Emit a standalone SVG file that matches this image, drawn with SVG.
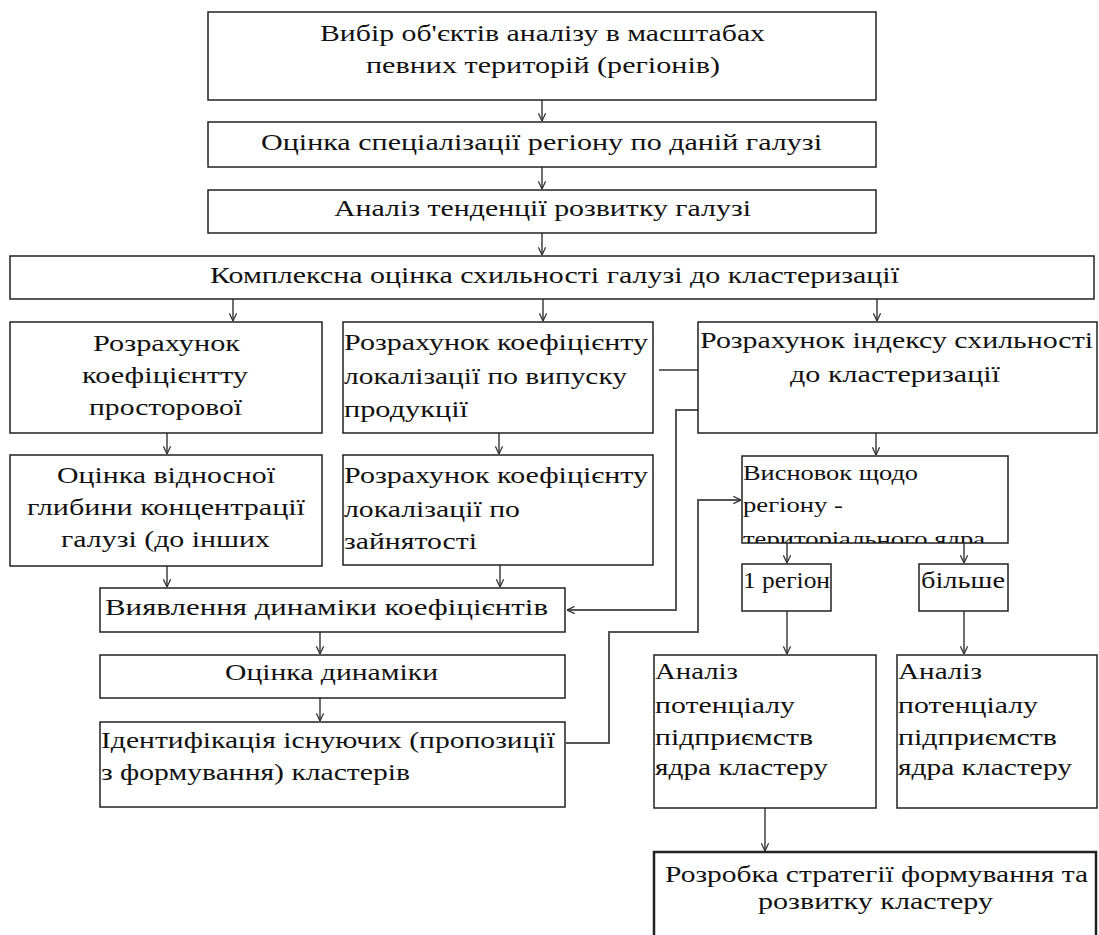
<svg xmlns="http://www.w3.org/2000/svg" width="1099" height="935" viewBox="0 0 1099 935">
<style>
.box{fill:#fff;stroke:#222;stroke-width:1.5}
.thick{stroke-width:2.5}
.t{font-family:"Liberation Serif","Times New Roman",serif;font-size:23px;fill:#111}
.s{font-size:21px}
.c{fill:none;stroke:#333;stroke-width:1.4}
.g{fill:none;stroke:#555;stroke-width:2}
</style>
<defs>
<marker id="ah" viewBox="0 0 10 10" refX="9.5" refY="5" markerWidth="9" markerHeight="9" markerUnits="userSpaceOnUse" orient="auto">
<path d="M1,1 L9.5,5 L1,9" fill="none" stroke="#333" stroke-width="1.4"/>
</marker>
<clipPath id="clipF"><rect x="742" y="456" width="266" height="87"/></clipPath>
</defs>
<rect width="1099" height="935" fill="#fff"/>

<g id="connectors">
<line class="c" x1="542" y1="100" x2="542" y2="121" marker-end="url(#ah)"/>
<line class="c" x1="542" y1="167" x2="542" y2="189" marker-end="url(#ah)"/>
<line class="c" x1="542" y1="233" x2="542" y2="255" marker-end="url(#ah)"/>
<line class="c" x1="233" y1="299" x2="233" y2="321" marker-end="url(#ah)"/>
<line class="c" x1="543" y1="299" x2="543" y2="321" marker-end="url(#ah)"/>
<line class="c" x1="877" y1="299" x2="877" y2="321" marker-end="url(#ah)"/>
<line class="c" x1="167" y1="433" x2="167" y2="454" marker-end="url(#ah)"/>
<line class="c" x1="499" y1="433" x2="499" y2="454" marker-end="url(#ah)"/>
<line class="c" x1="876" y1="433" x2="876" y2="455" marker-end="url(#ah)"/>
<line class="c" x1="167" y1="566" x2="167" y2="587" marker-end="url(#ah)"/>
<line class="c" x1="500" y1="565" x2="500" y2="587" marker-end="url(#ah)"/>
<line class="c" x1="320" y1="632" x2="320" y2="654" marker-end="url(#ah)"/>
<line class="c" x1="320" y1="698" x2="320" y2="721" marker-end="url(#ah)"/>
<line class="c" x1="787" y1="543" x2="787" y2="563" marker-end="url(#ah)"/>
<line class="c" x1="964" y1="543" x2="964" y2="563" marker-end="url(#ah)"/>
<line class="c" x1="787" y1="611" x2="787" y2="654" marker-end="url(#ah)"/>
<line class="c" x1="964" y1="611" x2="964" y2="654" marker-end="url(#ah)"/>
<line class="c" x1="765" y1="808" x2="765" y2="851" marker-end="url(#ah)"/>
<line class="c" x1="659" y1="370" x2="708" y2="370"/>
<polyline class="g" points="698,410 676,410 676,610 567,610" marker-end="url(#ah)"/>
<polyline class="g" points="566,743 609,743 609,632 698,632 698,500 741,500" marker-end="url(#ah)"/>
</g>

<g id="n1"><rect class="box" x="208" y="12" width="668" height="88"/>
<text class="t" x="320" y="41" textLength="445" lengthAdjust="spacingAndGlyphs">Вибір об'єктів аналізу в масштабах</text>
<text class="t" x="366" y="73" textLength="354" lengthAdjust="spacingAndGlyphs">певних територій (регіонів)</text></g>

<g id="n2"><rect class="box" x="208" y="122" width="668" height="45"/>
<text class="t" x="261" y="150" textLength="561" lengthAdjust="spacingAndGlyphs">Оцінка спеціалізації регіону по даній галузі</text></g>

<g id="n3"><rect class="box" x="208" y="190" width="668" height="43"/>
<text class="t" x="334" y="216" textLength="417" lengthAdjust="spacingAndGlyphs">Аналіз тенденції розвитку галузі</text></g>

<g id="n4"><rect class="box" x="10" y="256" width="1084" height="43"/>
<text class="t" x="210" y="283" textLength="689" lengthAdjust="spacingAndGlyphs">Комплексна оцінка схильності галузі до кластеризації</text></g>

<g id="nA"><rect class="box" x="10" y="322" width="312" height="111"/>
<text class="t" x="93" y="351" textLength="147" lengthAdjust="spacingAndGlyphs">Розрахунок</text>
<text class="t" x="82" y="383" textLength="166" lengthAdjust="spacingAndGlyphs">коефіцієнтту</text>
<text class="t" x="89" y="415" textLength="153" lengthAdjust="spacingAndGlyphs">просторової</text></g>

<g id="nB"><rect class="box" x="343" y="322" width="310" height="111"/>
<text class="t" x="344" y="350" textLength="304" lengthAdjust="spacingAndGlyphs">Розрахунок коефіцієнту</text>
<text class="t" x="344" y="384" textLength="283" lengthAdjust="spacingAndGlyphs">локалізації по випуску</text>
<text class="t" x="344" y="417" textLength="124" lengthAdjust="spacingAndGlyphs">продукції</text></g>

<g id="nC"><rect class="box" x="698" y="322" width="399" height="111"/>
<text class="t" x="700" y="348" textLength="393" lengthAdjust="spacingAndGlyphs">Розрахунок індексу схильності</text>
<text class="t" x="790" y="382" textLength="210" lengthAdjust="spacingAndGlyphs">до кластеризації</text></g>

<g id="nD"><rect class="box" x="10" y="455" width="312" height="111"/>
<text class="t" x="57" y="483" textLength="218" lengthAdjust="spacingAndGlyphs">Оцінка відносної</text>
<text class="t" x="27" y="515" textLength="278" lengthAdjust="spacingAndGlyphs">глибини концентрації</text>
<text class="t" x="61" y="547" textLength="209" lengthAdjust="spacingAndGlyphs">галузі (до інших</text></g>

<g id="nE"><rect class="box" x="343" y="455" width="310" height="110"/>
<text class="t" x="344" y="483" textLength="304" lengthAdjust="spacingAndGlyphs">Розрахунок коефіцієнту</text>
<text class="t" x="344" y="517" textLength="176" lengthAdjust="spacingAndGlyphs">локалізації по</text>
<text class="t" x="344" y="549" textLength="133" lengthAdjust="spacingAndGlyphs">зайнятості</text></g>

<g id="nF"><rect class="box" x="742" y="456" width="266" height="87"/>
<text class="t s" x="743" y="480" textLength="175" lengthAdjust="spacingAndGlyphs">Висновок щодо</text>
<text class="t s" x="743" y="512" textLength="100" lengthAdjust="spacingAndGlyphs">регіону -</text>
<text class="t s" x="743" y="546" textLength="242" lengthAdjust="spacingAndGlyphs" clip-path="url(#clipF)">територіального ядра</text></g>

<g id="nG"><rect class="box" x="100" y="588" width="465" height="44"/>
<text class="t" x="105" y="615" textLength="443" lengthAdjust="spacingAndGlyphs">Виявлення динаміки коефіцієнтів</text></g>

<g id="nH"><rect class="box" x="100" y="655" width="465" height="43"/>
<text class="t" x="225" y="680" textLength="213" lengthAdjust="spacingAndGlyphs">Оцінка динаміки</text></g>

<g id="nI"><rect class="box" x="100" y="722" width="465" height="85"/>
<text class="t" x="101" y="748" textLength="454" lengthAdjust="spacingAndGlyphs">Ідентифікація існуючих (пропозиції</text>
<text class="t" x="101" y="780" textLength="309" lengthAdjust="spacingAndGlyphs">з формування) кластерів</text></g>

<g id="nR1"><rect class="box" x="742" y="564" width="89" height="47"/>
<text class="t" x="743" y="588" textLength="87" lengthAdjust="spacingAndGlyphs">1 регіон</text></g>

<g id="nR2"><rect class="box" x="919" y="564" width="89" height="47"/>
<text class="t" x="921" y="588" textLength="84" lengthAdjust="spacingAndGlyphs">більше</text></g>

<g id="nK1"><rect class="box" x="654" y="655" width="222" height="153"/>
<text class="t" x="655" y="679" textLength="83" lengthAdjust="spacingAndGlyphs">Аналіз</text>
<text class="t" x="655" y="713" textLength="140" lengthAdjust="spacingAndGlyphs">потенціалу</text>
<text class="t" x="655" y="745" textLength="158" lengthAdjust="spacingAndGlyphs">підприємств</text>
<text class="t" x="655" y="775" textLength="173" lengthAdjust="spacingAndGlyphs">ядра кластеру</text></g>

<g id="nK2"><rect class="box" x="897" y="655" width="200" height="153"/>
<text class="t" x="898" y="679" textLength="84" lengthAdjust="spacingAndGlyphs">Аналіз</text>
<text class="t" x="898" y="713" textLength="140" lengthAdjust="spacingAndGlyphs">потенціалу</text>
<text class="t" x="898" y="745" textLength="159" lengthAdjust="spacingAndGlyphs">підприємств</text>
<text class="t" x="898" y="775" textLength="174" lengthAdjust="spacingAndGlyphs">ядра кластеру</text></g>

<g id="nZ"><rect class="box thick" x="654" y="852" width="442" height="110"/>
<text class="t" x="665" y="882" textLength="423" lengthAdjust="spacingAndGlyphs">Розробка стратегії формування та</text>
<text class="t" x="758" y="909" textLength="235" lengthAdjust="spacingAndGlyphs">розвитку кластеру</text></g>
</svg>
